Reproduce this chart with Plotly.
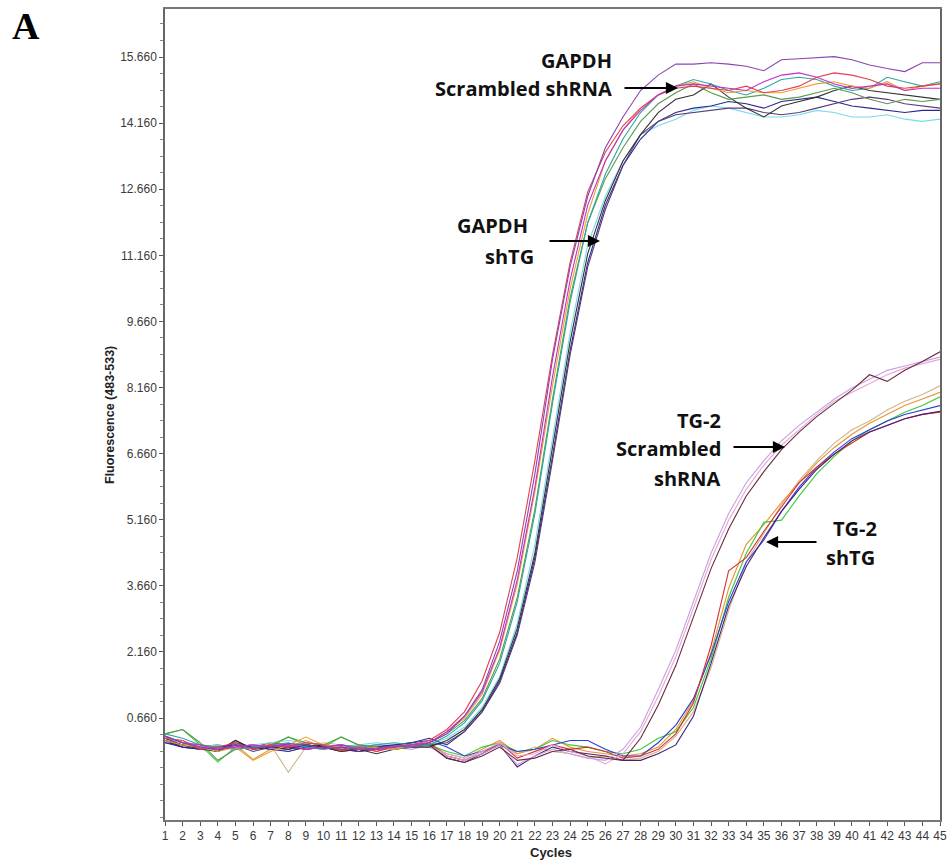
import plotly.graph_objects as go

# ---------------- data ----------------
cycles = list(range(1, 46))
x_tick_labels = [str(c) for c in cycles]
y_tick_values = [0.66, 2.16, 3.66, 5.16, 6.66, 8.16, 9.66, 11.16, 12.66, 14.16, 15.66]
y_tick_labels = ["0.660", "2.160", "3.660", "5.160", "6.660", "8.160", "9.660",
                 "11.160", "12.660", "14.160", "15.660"]

# GAPDH curves (cycles 1..45)
gapdh_purple = [0.25, 0.10, 0.00, -0.05, 0.05, -0.02, 0.02, 0.08, 0.05, -0.03, 0.00, -0.05, -0.02, 0.03, 0.00, 0.10,
                0.30, 0.70, 1.30, 2.40, 4.00, 6.20, 8.80, 10.9, 12.5, 13.6, 14.3, 14.9, 15.25, 15.5,
                15.5, 15.53, 15.5, 15.45, 15.35, 15.6, 15.62, 15.65, 15.67, 15.6, 15.48, 15.4, 15.33, 15.53, 15.53]
gapdh_red = [0.20, 0.15, -0.05, 0.00, 0.10, -0.05, 0.05, 0.00, 0.10, 0.05, -0.08, 0.00, -0.10, 0.02, 0.05, 0.15,
             0.40, 0.80, 1.50, 2.60, 4.30, 6.50, 8.90, 11.0, 12.6, 13.5, 14.1, 14.5, 14.8, 14.95,
             15.0, 14.95, 14.9, 15.0, 14.85, 14.9, 15.0, 15.2, 15.3, 15.25, 15.15, 15.0, 14.95, 15.0, 15.05]
gapdh_orange = [0.15, 0.05, 0.00, -0.10, 0.00, -0.30, -0.10, 0.05, 0.23, 0.05, 0.00, -0.05, 0.00, -0.05, 0.05, 0.10,
                0.35, 0.65, 1.20, 2.20, 3.70, 5.80, 8.20, 10.4, 12.1, 13.3, 14.0, 14.5, 14.8, 15.0,
                15.1, 14.95, 14.85, 14.9, 14.85, 14.85, 14.95, 15.05, 15.1, 15.0, 14.95, 15.1, 14.9, 15.0, 15.05]
gapdh_teal = [0.30, 0.20, 0.05, 0.00, -0.05, 0.00, 0.05, 0.10, 0.00, -0.05, 0.05, 0.00, 0.05, 0.10, 0.05, 0.05,
              0.25, 0.55, 1.05, 1.90, 3.30, 5.30, 7.80, 10.1, 11.9, 13.0, 13.8, 14.4, 14.8, 15.0,
              15.15, 15.05, 14.9, 14.8, 14.95, 15.15, 15.2, 15.15, 15.0, 14.9, 14.95, 15.2, 15.1, 15.0, 15.1]
gapdh_green = [0.30, 0.40, 0.10, -0.30, -0.05, 0.00, 0.05, 0.23, 0.10, 0.05, 0.23, 0.05, 0.00, -0.05, 0.00, 0.10,
               0.30, 0.60, 1.10, 2.00, 3.40, 5.40, 7.90, 10.2, 11.9, 12.9, 13.6, 14.2, 14.6, 14.85,
               15.05, 14.85, 14.7, 14.75, 14.8, 14.7, 14.75, 14.85, 14.95, 14.85, 14.7, 14.6, 14.7, 14.65, 14.7]
gapdh_cyan = [0.20, 0.10, 0.00, 0.05, 0.00, 0.05, 0.10, 0.15, 0.10, 0.05, 0.00, 0.05, 0.10, 0.05, 0.00, 0.05,
              0.20, 0.45, 0.90, 1.60, 2.80, 4.60, 7.00, 9.40, 11.4, 12.5, 13.3, 13.9, 14.1, 14.25,
              14.45, 14.55, 14.5, 14.4, 14.3, 14.3, 14.35, 14.45, 14.4, 14.3, 14.3, 14.35, 14.25, 14.2, 14.25]
gapdh_black = [0.15, 0.05, -0.05, -0.10, 0.15, -0.05, 0.00, -0.05, 0.05, 0.00, -0.10, -0.05, -0.15, -0.05, 0.00, 0.00,
               0.15, 0.40, 0.85, 1.55, 2.70, 4.40, 6.80, 9.20, 11.2, 12.4, 13.3, 13.9, 14.4, 14.7,
               14.8, 15.05, 14.75, 14.5, 14.3, 14.55, 14.65, 14.75, 14.9, 15.0, 14.9, 14.85, 14.8, 14.75, 14.7]
gapdh_navy = [0.10, 0.00, -0.05, 0.00, 0.05, 0.00, -0.05, -0.10, 0.00, 0.05, 0.00, -0.10, 0.00, 0.05, 0.10, 0.20,
              0.05, 0.35, 0.80, 1.50, 2.60, 4.30, 6.60, 9.00, 11.0, 12.3, 13.2, 13.8, 14.2, 14.4,
              14.5, 14.55, 14.65, 14.6, 14.5, 14.65, 14.7, 14.75, 14.65, 14.55, 14.5, 14.45, 14.4, 14.45, 14.45]
gapdh_magenta = [0.25, 0.10, 0.05, -0.05, 0.00, 0.05, 0.00, 0.05, -0.05, 0.00, 0.05, -0.05, -0.05, 0.00, 0.05, 0.10,
                 0.35, 0.70, 1.25, 2.25, 3.80, 5.90, 8.40, 10.6, 12.3, 13.3, 14.0, 14.45, 14.8, 15.0,
                 15.05, 15.0, 14.95, 14.9, 15.1, 15.25, 15.3, 15.2, 15.05, 14.95, 15.0, 15.05, 14.9, 14.95, 14.95]
gapdh_darkpurple = [0.20, 0.05, 0.00, -0.10, 0.05, -0.10, 0.00, 0.00, -0.05, 0.00, -0.05, -0.10, -0.05, 0.00, 0.05, 0.05,
                    0.10, 0.35, 0.80, 1.45, 2.55, 4.20, 6.50, 8.90, 10.9, 12.2, 13.2, 13.9, 14.2, 14.35,
                    14.4, 14.45, 14.5, 14.5, 14.4, 14.35, 14.4, 14.5, 14.6, 14.7, 14.75, 14.7, 14.6, 14.55, 14.5]

# TG-2 curves (cycles 1..45)
tg2_pink = [0.20, 0.15, 0.00, -0.05, 0.05, 0.00, -0.05, 0.00, 0.10, 0.05, 0.00, -0.05, 0.00, -0.05, 0.05, 0.00,
            -0.15, -0.25, -0.10, 0.10, -0.20, -0.15, 0.05, -0.10, -0.20, -0.38, -0.15,
            0.35, 1.15, 2.05, 3.15, 4.25, 5.15, 5.85, 6.40, 6.85, 7.20, 7.55, 7.85, 8.05, 8.25, 8.45, 8.60, 8.70, 8.80]
tg2_lavender = [0.15, 0.05, -0.05, 0.00, -0.05, 0.05, 0.00, -0.10, 0.00, 0.05, -0.05, 0.00, 0.05, 0.00, -0.05, 0.05,
                -0.20, -0.30, -0.15, 0.05, -0.40, -0.20, -0.05, -0.15, -0.25, -0.30, -0.05,
                0.45, 1.30, 2.20, 3.30, 4.40, 5.30, 6.00, 6.50, 6.95, 7.30, 7.60, 7.90, 8.15, 8.35, 8.55, 8.65, 8.75, 8.85]
tg2_maroon = [0.25, 0.10, 0.00, -0.10, 0.15, -0.05, 0.05, 0.00, -0.05, 0.00, -0.10, -0.05, 0.00, 0.05, 0.00, 0.05,
              -0.25, -0.35, -0.20, 0.00, -0.30, -0.25, -0.10, -0.05, -0.20, -0.25, -0.30,
              0.20, 0.95, 1.85, 2.95, 4.05, 4.95, 5.70, 6.25, 6.75, 7.15, 7.50, 7.80, 8.10, 8.45, 8.30, 8.55, 8.75, 8.97]
tg2_tan = [0.20, 0.10, 0.05, 0.00, -0.05, 0.00, 0.05, -0.57, 0.00, 0.10, 0.05, 0.00, -0.05, 0.00, 0.05, 0.00,
           -0.20, -0.30, -0.10, 0.05, -0.15, 0.00, -0.10, -0.15, -0.25, -0.20, -0.30,
           -0.25, -0.10, 0.25, 0.80, 1.80, 3.10, 4.20, 4.85, 5.50, 6.05, 6.50, 6.90, 7.20, 7.40, 7.65, 7.85, 8.00, 8.20]
tg2_orange = [0.15, 0.05, -0.05, 0.00, 0.05, -0.28, -0.05, 0.00, 0.15, 0.00, -0.05, 0.00, 0.05, -0.05, 0.00, 0.05,
              -0.15, -0.25, -0.05, 0.15, -0.15, -0.05, 0.20, 0.00, -0.10, -0.15, -0.20,
              -0.15, 0.00, 0.40, 1.05, 2.15, 3.60, 4.60, 5.05, 5.55, 6.00, 6.45, 6.80, 7.10, 7.35, 7.55, 7.75, 7.90, 8.05]
tg2_green = [0.30, 0.40, 0.05, -0.34, 0.00, 0.05, 0.00, 0.23, 0.05, 0.00, 0.23, 0.05, 0.00, 0.05, 0.10, 0.05,
             -0.10, -0.20, 0.00, 0.10, -0.10, -0.05, 0.15, 0.05, 0.00, -0.10, -0.15,
             -0.05, 0.20, 0.35, 0.90, 2.00, 3.40, 4.40, 5.10, 5.15, 5.70, 6.20, 6.60, 6.95, 7.20, 7.40, 7.60, 7.75, 7.95]
tg2_blue = [0.10, 0.05, -0.05, -0.05, 0.00, 0.05, 0.00, -0.05, 0.05, 0.00, 0.05, -0.05, 0.00, 0.05, 0.10, 0.15,
            0.00, -0.20, -0.10, 0.05, -0.10, -0.05, 0.05, 0.15, 0.15, -0.05, -0.20,
            -0.20, 0.10, 0.50, 1.10, 2.10, 3.30, 4.20, 4.70, 5.35, 5.90, 6.35, 6.70, 7.00, 7.20, 7.40, 7.55, 7.65, 7.75]
tg2_red = [0.20, 0.10, 0.00, 0.05, -0.05, 0.00, 0.10, 0.05, 0.00, -0.05, 0.00, 0.05, -0.10, 0.00, 0.05, 0.10,
           -0.20, -0.30, -0.15, 0.10, -0.25, -0.10, 0.05, -0.05, 0.00, -0.10, -0.25,
           -0.20, -0.05, 0.30, 1.00, 2.30, 4.00, 4.30, 4.90, 5.45, 6.00, 6.35, 6.65, 6.90, 7.15, 7.30, 7.45, 7.55, 7.60]
tg2_darkpurple = [0.15, 0.00, -0.05, -0.05, 0.10, 0.00, -0.05, 0.00, 0.05, 0.00, -0.05, -0.10, -0.05, 0.00, 0.00, 0.05,
                  -0.25, -0.35, -0.15, 0.05, -0.45, -0.20, 0.00, -0.10, -0.15, -0.20, -0.30,
                  -0.30, -0.15, 0.05, 0.70, 1.90, 3.20, 4.10, 4.75, 5.35, 5.85, 6.30, 6.65, 6.95, 7.15, 7.30, 7.45, 7.55, 7.62]

# ---------------- styling ----------------
series = [
    (tg2_tan, "#d2b48c"), (tg2_orange, "#e8942c"), (tg2_green, "#3cc83c"),
    (tg2_blue, "#2c3cd8"), (tg2_red, "#d83030"), (tg2_darkpurple, "#4a2070"),
    (tg2_pink, "#e6a6d6"), (tg2_lavender, "#c6a2e0"), (tg2_maroon, "#6a2a40"),
    (gapdh_cyan, "#78dcec"), (gapdh_navy, "#282890"), (gapdh_darkpurple, "#5a3a78"),
    (gapdh_black, "#333333"), (gapdh_green, "#5a9a50"), (gapdh_teal, "#2aa8a0"),
    (gapdh_orange, "#f0a030"), (gapdh_red, "#e04050"), (gapdh_magenta, "#c030c8"),
    (gapdh_purple, "#8a44b0"),
]

fig = go.Figure()
for vals, col in series:
    fig.add_trace(go.Scatter(x=cycles, y=vals, mode="lines",
                             line=dict(color=col, width=1.1), showlegend=False,
                             hoverinfo="skip"))

# full-window figure; page body margin is removed by the post script below
W, H = 948, 861
PLOT_L, PLOT_R, PLOT_T, PLOT_B = 165, 940, 9, 820  # plot box in page pixels
L, R, T, B = PLOT_L, W - PLOT_R, PLOT_T, H - PLOT_B
PW, PH = W - L - R, H - T - B


def px(x):
    return (x - L) / PW


def py(y):
    return (H - B - y) / PH


tick_font = dict(family="Liberation Sans, Arial", size=12, color="#3a3a3a")
fig.update_layout(
    width=W, height=H,
    margin=dict(l=L, r=R, t=T, b=B, autoexpand=False),
    paper_bgcolor="white", plot_bgcolor="white",
    xaxis=dict(range=[1, 45], tickmode="array", tickvals=cycles, ticktext=x_tick_labels,
               ticks="outside", ticklen=4, tickcolor="#555", tickfont=tick_font,
               ticklabeloverflow="allow",
               showgrid=False, zeroline=False, showline=True, linecolor="#777",
               linewidth=1.5, mirror=True, automargin=False),
    yaxis=dict(range=[-1.654, 16.75], tickmode="array", tickvals=y_tick_values,
               ticktext=y_tick_labels, ticks="outside", ticklen=4, tickcolor="#555",
               tickfont=tick_font, showgrid=False, zeroline=False, showline=True,
               linecolor="#666", linewidth=1.5, mirror=True, automargin=False,
               minor=dict(tickmode="linear", tick0=0.66, dtick=0.375, ticks="outside",
                          ticklen=3, tickcolor="#888")),
)

lab_font = dict(family="Open Sans, Noto Sans, sans-serif", size=20, color="#111")
labels = [
    ("GAPDH", 613, 60, "right"),
    ("Scrambled shRNA", 613, 88, "right"),
    ("GAPDH", 529, 226, "right"),
    ("shTG", 535, 256, "right"),
    ("TG-2", 722, 420, "right"),
    ("Scrambled", 722, 448, "right"),
    ("shRNA", 722, 478, "right"),
    ("TG-2", 855, 528, "center"),
    ("shTG", 850, 557, "center"),
]
for txt, x, y, anc in labels:
    fig.add_annotation(text="<b>%s</b>" % txt, xref="paper", yref="paper",
                       x=px(x), y=py(y), xanchor=anc, yanchor="middle",
                       showarrow=False, font=lab_font, borderpad=0)

# arrows: (tail x, head x, y) in page pixels
arrows = [(623, 678, 88), (548, 600, 241), (732, 785, 447), (818, 766, 542)]
for tx, hx, y in arrows:
    fig.add_annotation(text="", xref="paper", yref="paper", x=px(hx), y=py(y),
                       ax=tx - hx, ay=0, showarrow=True, arrowhead=2, arrowsize=1.1,
                       arrowwidth=2.2, arrowcolor="#000")

fig.add_annotation(text="<b>Fluorescence (483-533)</b>", xref="paper", yref="paper",
                   x=px(110), y=py(415), xanchor="center", yanchor="middle",
                   textangle=-90, showarrow=False,
                   font=dict(family="Liberation Sans, Arial", size=12.5, color="#222"))
fig.add_annotation(text="<b>Cycles</b>", xref="paper", yref="paper",
                   x=px(551), y=py(852), xanchor="center", yanchor="middle",
                   showarrow=False,
                   font=dict(family="Liberation Sans, Arial", size=13, color="#222"))
fig.add_annotation(text="<b>A</b>", xref="paper", yref="paper",
                   x=px(10), y=py(26), xanchor="left", yanchor="middle", showarrow=False,
                   font=dict(family="Liberation Serif, Times New Roman, serif", size=38,
                             color="#000"))

fig.write_html("out.html",
               config={"displayModeBar": False},
               post_script="document.body.style.margin='0';"
                           "document.documentElement.style.overflow='hidden';")
